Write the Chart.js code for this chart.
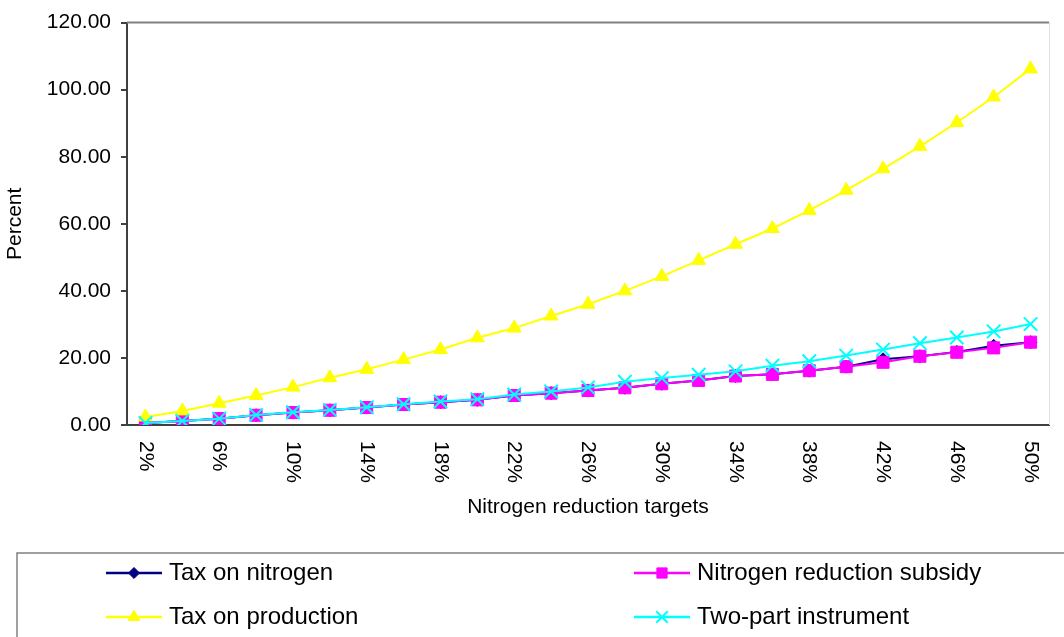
<!DOCTYPE html>
<html>
<head>
<meta charset="utf-8">
<script src="https://cdn.jsdelivr.net/npm/chart.js@4/dist/chart.umd.min.js"></script>
<style>
html,body{margin:0;padding:0;background:#ffffff;}
canvas{display:block;}
</style>
</head>
<body>
<canvas id="c" width="1064" height="637"></canvas>
<script>
// ---- data ----
const categories = ['2%','4%','6%','8%','10%','12%','14%','16%','18%','20%','22%','24%','26%','28%','30%','32%','34%','36%','38%','40%','42%','44%','46%','48%','50%'];
const taxOnNitrogen = [0.6,1.2,1.9,2.9,3.7,4.4,5.2,6.1,6.8,7.5,8.8,9.5,10.3,11.1,12.3,13.3,14.6,15.1,16.2,17.4,19.6,20.5,21.8,23.6,24.7];
const nitrogenReductionSubsidy = [0.6,1.2,1.9,2.9,3.7,4.4,5.2,6.1,6.8,7.5,8.8,9.5,10.3,11.1,12.3,13.3,14.6,15.1,16.2,17.4,18.7,20.5,21.7,23.0,24.7];
const taxOnProduction = [2.4,4.2,6.5,8.8,11.3,14.1,16.6,19.5,22.5,26.0,28.9,32.5,36.0,40.0,44.3,49.1,53.9,58.6,64.0,70.0,76.4,83.1,90.2,97.8,106.2];
const twoPartInstrument = [0.6,1.2,1.9,3.0,3.8,4.5,5.3,6.2,7.0,7.7,9.1,10.0,11.2,12.9,14.0,15.0,16.0,17.7,19.0,20.7,22.5,24.4,26.1,27.9,30.1];
const xTickLabels = ['2%','6%','10%','14%','18%','22%','26%','30%','34%','38%','42%','46%','50%'];
const seriesNames = ['Tax on nitrogen','Nitrogen reduction subsidy','Tax on production','Two-part instrument'];
const yMin = 0, yMax = 120, yStep = 20;
const xTitle = 'Nitrogen reduction targets';
const yTitle = 'Percent';

const FONT = '"Liberation Sans", Arial, sans-serif';
Chart.defaults.font.family = FONT;
Chart.defaults.color = '#000000';

const styles = [
  {color:'#000080', point:'rectRot', r:6.5, bw:1},
  {color:'#FF00FF', point:'rect', r:8.5, bw:1},
  {color:'#FFFF00', point:'triangle', r:8, bw:1},
  {color:'#00FFFF', point:'crossRot', r:9.5, bw:2}
];
const seriesData = [taxOnNitrogen, nitrogenReductionSubsidy, taxOnProduction, twoPartInstrument];

const datasets = seriesData.map((d, i) => ({
  label: seriesNames[i],
  data: d,
  borderColor: styles[i].color,
  backgroundColor: styles[i].color,
  pointBackgroundColor: styles[i].color,
  pointBorderColor: styles[i].color,
  pointBorderWidth: styles[i].bw,
  pointStyle: styles[i].point,
  pointRadius: styles[i].r,
  pointHoverRadius: styles[i].r,
  borderWidth: 2,
  tension: 0,
  fill: false,
  order: 3 - i
}));

function drawMarker(ctx, style, x, y, r, color, bw) {
  ctx.save();
  ctx.fillStyle = color; ctx.strokeStyle = color; ctx.lineWidth = bw;
  ctx.beginPath();
  if (style === 'rectRot') {
    ctx.moveTo(x - r, y); ctx.lineTo(x, y - r); ctx.lineTo(x + r, y); ctx.lineTo(x, y + r); ctx.closePath();
    ctx.fill(); ctx.stroke();
  } else if (style === 'rect') {
    const s = Math.SQRT1_2 * r;
    ctx.rect(x - s, y - s, 2 * s, 2 * s); ctx.fill(); ctx.stroke();
  } else if (style === 'triangle') {
    const a = Math.PI * 2 / 3;
    ctx.moveTo(x, y - r);
    ctx.lineTo(x + Math.sin(a) * r, y - Math.cos(a) * r);
    ctx.lineTo(x + Math.sin(2 * a) * r, y - Math.cos(2 * a) * r);
    ctx.closePath(); ctx.fill(); ctx.stroke();
  } else if (style === 'crossRot') {
    const o = Math.SQRT1_2 * r;
    ctx.moveTo(x - o, y - o); ctx.lineTo(x + o, y + o);
    ctx.moveTo(x - o, y + o); ctx.lineTo(x + o, y - o);
    ctx.stroke();
  }
  ctx.restore();
}

const framePlugin = {
  id: 'frame',
  beforeDatasetsDraw(chart) {
    const {ctx, chartArea: a} = chart;
    ctx.save();
    ctx.strokeStyle = '#808080'; ctx.lineWidth = 2;
    ctx.beginPath(); ctx.moveTo(a.left, a.top); ctx.lineTo(a.right, a.top); ctx.stroke();
    ctx.strokeStyle = '#e0e0e0'; ctx.lineWidth = 1;
    ctx.beginPath(); ctx.moveTo(a.right + 0.5, a.top); ctx.lineTo(a.right + 0.5, a.bottom); ctx.stroke();
    ctx.restore();
  }
};

const xLabelPlugin = {
  id: 'xlabels',
  afterDraw(chart) {
    const {ctx, chartArea: a} = chart;
    const xs = chart.scales.x;
    ctx.save();
    ctx.font = '21px ' + FONT;
    ctx.fillStyle = '#000000';
    ctx.textAlign = 'left';
    ctx.textBaseline = 'middle';
    xTickLabels.forEach(lbl => {
      const i = categories.indexOf(lbl);
      const x = xs.getPixelForValue(i);
      ctx.save();
      ctx.translate(x, a.bottom + 16);
      ctx.rotate(Math.PI / 2);
      ctx.fillText(lbl, 0, 0);
      ctx.restore();
    });
    ctx.restore();
  }
};

const legendPlugin = {
  id: 'boxlegend',
  afterDraw(chart) {
    const ctx = chart.ctx;
    ctx.save();
    ctx.strokeStyle = '#808080'; ctx.lineWidth = 1.5;
    ctx.strokeRect(17, 553, chart.width + 20, 120);
    const cols = [106, 634];
    const rows = [573, 617];
    const lineLen = 56;
    ctx.font = '24px ' + FONT;
    ctx.textAlign = 'left';
    ctx.textBaseline = 'middle';
    seriesNames.forEach((name, i) => {
      const cx = cols[i % 2], cy = rows[Math.floor(i / 2)];
      const st = styles[i];
      ctx.strokeStyle = st.color; ctx.lineWidth = 2.5;
      ctx.beginPath(); ctx.moveTo(cx, cy); ctx.lineTo(cx + lineLen, cy); ctx.stroke();
      drawMarker(ctx, st.point, cx + lineLen / 2, cy, st.r * 0.85, st.color, st.bw);
      ctx.fillStyle = '#000000';
      ctx.fillText(name, cx + lineLen + 7, cy);
    });
    ctx.restore();
  }
};

new Chart(document.getElementById('c'), {
  type: 'line',
  data: { labels: categories, datasets: datasets },
  options: {
    responsive: false,
    animation: false,
    events: [],
    layout: { padding: { top: 21, right: 15, left: 0, bottom: 0 } },
    plugins: { legend: { display: false }, tooltip: { enabled: false } },
    scales: {
      x: {
        type: 'category',
        offset: true,
        grid: { display: false },
        border: { display: true, color: '#404040', width: 2 },
        ticks: { display: false },
        title: { display: true, text: xTitle, font: { size: 21 }, color: '#000000', padding: { top: 0, bottom: 117 } },
        afterFit(scale) { scale.height = 212; }
      },
      y: {
        min: yMin, max: yMax,
        grid: { drawOnChartArea: false, drawTicks: true, tickLength: 6, color: '#404040', lineWidth: 2 },
        border: { display: true, color: '#404040', width: 2 },
        ticks: { stepSize: yStep, padding: 10, font: { size: 21 }, color: '#000000', callback: v => Number(v).toFixed(2) },
        title: { display: true, text: yTitle, font: { size: 21 }, color: '#000000', padding: { top: 3, bottom: 0 } },
        afterFit(scale) { scale.width = 127; }
      }
    }
  },
  plugins: [framePlugin, xLabelPlugin, legendPlugin]
});
</script>
</body>
</html>
